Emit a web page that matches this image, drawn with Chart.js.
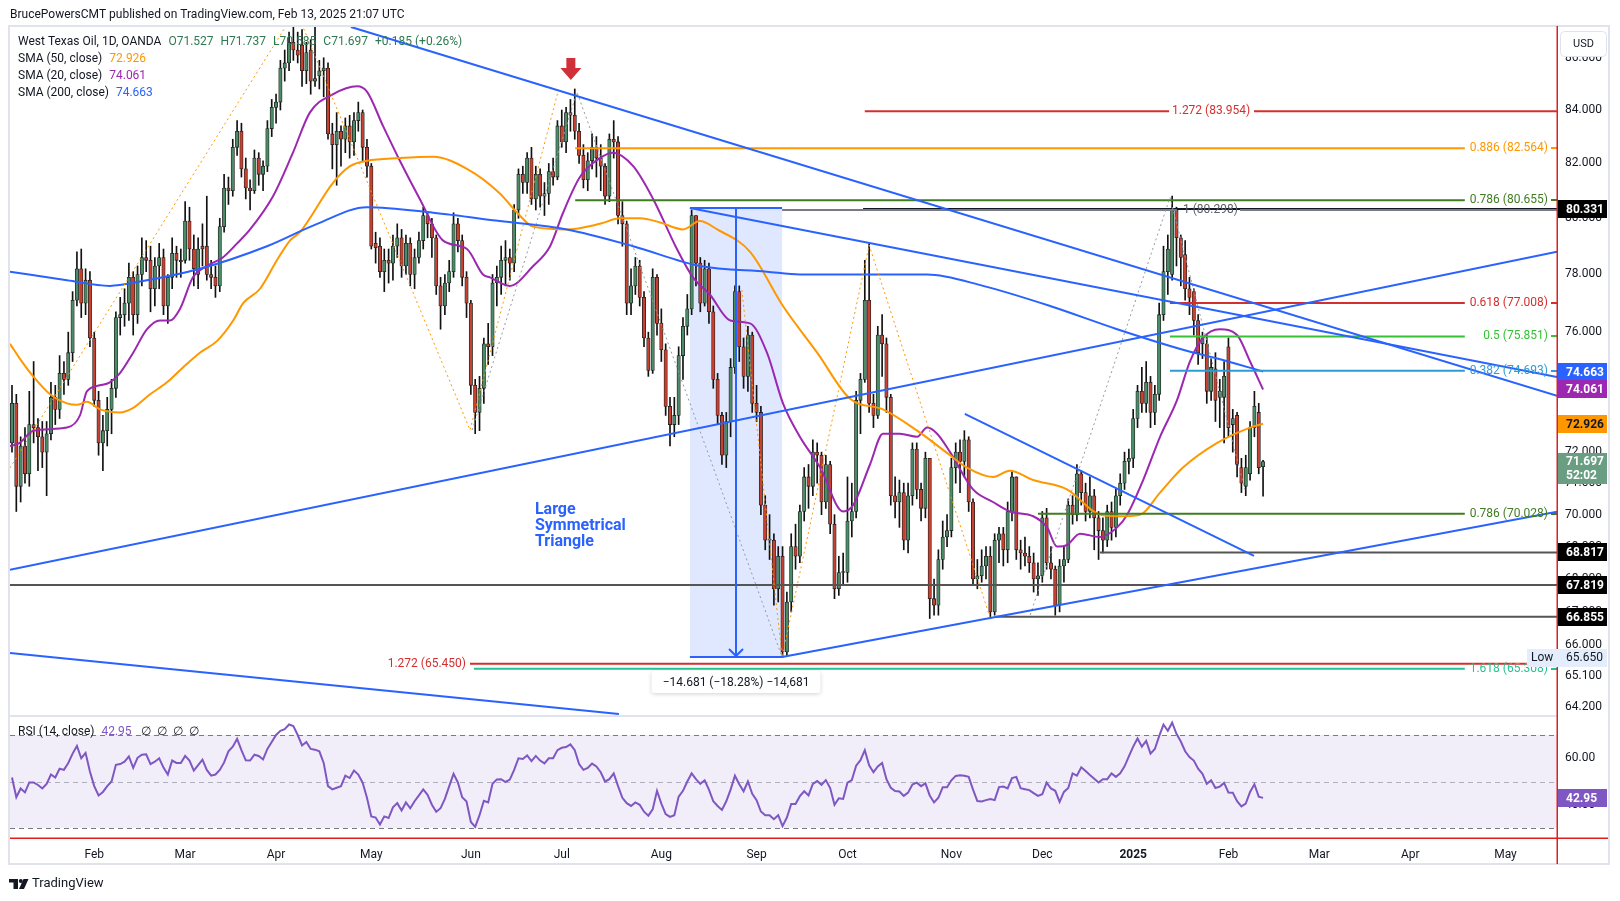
<!DOCTYPE html>
<html>
<head>
<meta charset="utf-8">
<title>West Texas Oil, 1D, OANDA</title>
<script src="https://cdn.jsdelivr.net/npm/chart.js@4.4.1/dist/chart.umd.min.js"></script>
<style>
  html, body { margin: 0; padding: 0; background: #ffffff; }
  #chart { display: block; }
</style>
</head>
<body>
<canvas id="chart" width="1620" height="901"></canvas>
<script>
// daily bars, index 0 = first visible bar (early Jan 2024)
const opens = [
  72.3,73.6,70.9,72.2,71.3,72.9,72.8,72.5,72.0,72.6,
  73.8,73.4,74.6,74.4,75.3,77.1,78.2,77.0,77.8,75.8,
  73.7,72.3,72.7,73.4,74.1,76.5,76.6,77.0,77.9,76.6,
  78.0,78.6,78.5,77.5,78.3,78.6,76.9,77.9,78.75,78.5,
  78.5,79.9,78.9,78.0,79.0,79.0,78.0,77.9,77.6,79.7,
  81.1,81.0,82.6,83.2,81.8,81.1,81.0,82.2,81.6,81.9,
  83.3,84.1,84.3,85.6,85.8,86.6,86.3,86.5,85.5,86.3,
  85.1,85.3,85.5,85.6,83.1,82.7,83.2,82.9,83.4,82.8,
  83.6,83.9,82.6,81.9,79.1,79.0,78.1,78.5,78.4,79.0,
  79.3,78.3,79.1,78.0,78.6,79.2,80.1,79.8,79.3,77.6,
  76.9,77.7,78.1,79.8,79.2,77.9,77.0,74.2,73.3,74.1,
  75.6,75.5,77.7,77.9,78.5,78.6,78.4,80.3,81.6,81.3,
  82.2,80.7,81.6,80.8,80.9,81.7,81.5,83.4,82.8,83.9,
  83.8,83.2,82.3,81.4,82.1,82.6,82.2,81.9,80.8,82.9,
  82.8,80.1,79.8,77.0,77.6,78.3,77.2,75.8,74.7,77.9,
  76.3,75.4,73.5,72.9,73.2,75.2,76.2,76.8,80.1,78.4,
  77.0,78.2,76.7,74.4,73.2,71.9,73.0,74.8,77.4,75.5,
  74.5,75.9,73.6,73.3,70.3,69.2,69.2,67.7,68.7,65.8,
  67.3,69.0,68.7,70.1,71.2,70.9,72.0,71.9,70.4,71.6,
  69.7,67.7,68.2,68.2,69.8,70.1,73.7,74.4,77.1,73.6,
  73.2,75.9,75.6,73.8,70.6,70.4,70.7,69.2,70.6,72.1,
  70.8,70.2,71.8,67.4,67.2,68.6,69.3,69.5,71.5,72.0,
  71.7,72.4,70.4,68.0,68.1,68.4,68.7,67.0,69.2,69.4,
  68.9,70.1,71.2,68.9,68.8,68.7,68.5,68.0,68.1,69.9,
  68.5,68.3,67.2,68.4,68.6,70.3,70.0,71.3,70.7,70.1,
  70.6,69.9,69.5,69.2,70.1,69.6,70.6,71.0,71.7,71.8,
  73.1,74.0,73.6,74.3,73.3,73.9,76.6,78.1,78.0,80.3,
  79.3,78.7,77.5,77.4,76.4,75.6,75.6,74.0,74.75,73.8,
  73.8,75.5,72.9,73.2,71.5,70.9,71.3,72.8,73.3,71.527
];
const highs = [
  74.2,73.9,72.5,72.8,74.0,75.0,73.1,73.0,73.0,74.3,
  74.2,75.2,75.0,76.0,77.4,78.8,78.9,78.2,78.1,76.0,
  74.0,73.2,73.8,74.4,76.7,77.2,77.5,78.4,78.1,78.3,
  79.3,79.2,79.0,78.6,79.1,78.9,78.0,79.3,79.0,78.9,
  80.6,80.4,79.4,79.3,79.8,80.8,78.5,78.3,80.0,81.6,
  81.5,82.9,83.6,83.5,82.2,81.4,82.5,82.4,82.1,83.6,
  84.4,84.6,85.9,86.3,87.0,87.4,87.0,87.1,86.6,86.7,
  87.6,85.9,86.0,85.8,83.5,83.9,83.4,83.7,83.8,83.9,
  84.3,84.0,82.9,82.0,79.5,79.3,78.9,78.9,79.4,79.8,
  79.6,79.4,79.3,78.9,79.5,80.4,80.2,80.0,79.4,77.9,
  78.0,78.5,80.2,80.0,79.4,78.1,77.1,74.4,74.5,75.8,
  76.3,78.0,78.3,79.0,79.2,78.9,80.5,81.8,81.9,82.4,
  82.6,81.9,81.8,81.3,82.0,82.2,83.6,84.0,84.1,84.4,
  84.8,83.5,82.7,82.4,83.1,83.0,82.7,82.0,83.1,83.6,
  83.0,80.6,79.9,78.2,78.6,78.5,77.4,76.0,78.2,78.0,
  76.8,75.6,73.8,73.8,75.5,76.5,77.3,80.3,80.1,78.6,
  78.5,78.4,76.9,74.6,73.3,73.3,75.1,77.6,77.6,75.8,
  76.2,76.0,74.2,73.5,70.6,70.0,69.4,69.0,69.0,67.6,
  69.4,69.7,70.3,71.5,71.6,72.4,72.3,72.0,71.9,71.7,
  70.0,68.7,68.8,71.2,71.0,74.0,74.6,78.5,79.1,73.9,
  76.2,76.6,75.8,73.9,71.2,71.1,71.0,71.0,72.3,72.3,
  71.0,72.0,71.8,68.0,68.9,69.8,70.0,71.8,72.3,72.4,
  72.7,72.5,70.5,68.6,68.9,69.0,69.0,69.4,69.6,69.6,
  70.4,71.4,71.2,69.2,69.3,69.0,68.8,68.5,70.1,70.2,
  69.0,68.4,68.6,69.0,70.5,70.6,71.6,71.4,71.0,71.2,
  70.8,70.1,69.9,70.3,70.4,70.8,71.3,72.0,72.1,73.4,
  74.2,74.8,75.0,74.5,74.2,77.0,79.0,79.4,80.8,80.4,
  79.4,79.2,77.9,77.5,76.6,76.0,75.9,75.1,75.3,74.4,
  75.0,75.8,73.4,73.3,71.8,71.9,73.0,74.0,73.6,71.737
];
const lows = [
  72.0,70.1,70.4,71.0,70.9,72.3,71.4,71.5,70.6,72.4,
  72.9,73.1,73.9,74.2,75.0,76.9,76.5,76.6,75.5,73.5,
  71.9,71.4,72.2,72.6,73.8,75.9,76.2,76.4,75.9,76.3,
  77.6,78.1,76.7,76.9,77.5,76.6,76.3,77.5,77.9,77.9,
  78.4,78.5,77.6,77.5,78.3,77.8,77.5,77.2,77.4,79.5,
  80.5,80.8,82.3,81.5,80.7,80.3,80.9,81.2,81.0,81.7,
  83.0,83.5,84.0,85.1,85.5,85.9,85.8,84.9,85.0,84.6,
  84.9,84.8,84.5,82.9,81.8,81.2,81.9,82.4,82.2,82.3,
  83.2,82.1,81.5,78.9,78.4,77.9,77.4,77.7,77.8,78.6,
  77.9,78.0,77.6,77.5,78.4,78.9,79.3,78.6,77.3,76.1,
  76.6,77.4,77.9,78.8,77.6,76.5,73.9,72.6,72.7,73.6,
  74.9,75.2,76.9,77.3,77.6,77.8,78.1,80.0,80.9,80.9,
  80.5,80.3,80.4,80.1,80.5,81.2,81.4,82.6,82.4,83.2,
  82.9,82.0,81.1,81.0,81.8,81.5,81.0,80.5,80.6,82.2,
  79.8,79.0,76.6,76.6,77.3,76.9,75.5,74.5,74.6,75.9,
  75.0,73.2,72.2,72.5,72.9,74.4,75.9,76.6,77.6,76.7,
  76.9,76.3,74.1,72.9,71.6,71.5,72.5,74.6,75.0,74.1,
  74.0,73.3,73.0,70.0,68.9,68.6,67.2,67.3,65.65,65.7,
  67.0,68.3,68.5,69.8,70.2,70.6,71.0,70.0,70.2,69.4,
  67.4,67.5,67.8,67.9,69.3,69.9,72.6,74.3,73.3,72.8,
  73.1,74.5,73.3,70.3,69.9,69.6,68.9,68.8,70.3,70.5,
  69.8,69.9,66.8,66.9,66.9,68.3,69.0,69.3,71.0,70.7,
  71.2,70.1,67.8,67.7,67.9,68.0,66.8,66.9,68.5,68.4,
  68.5,69.8,68.6,68.3,68.4,68.2,67.6,67.5,67.9,68.3,
  68.0,66.9,67.0,67.9,68.5,69.7,69.8,70.3,69.8,69.9,
  68.9,68.6,68.8,69.0,69.2,69.3,70.3,70.8,71.3,71.5,
  72.8,73.3,73.3,72.8,72.9,73.7,76.4,77.3,77.8,78.3,
  77.6,77.1,76.6,75.9,74.9,75.1,73.6,73.7,73.0,72.8,
  72.3,72.5,72.0,71.2,70.7,70.6,71.1,72.5,71.3,70.585
];
const closes = [
  73.6,70.9,72.2,71.3,72.9,72.8,72.5,72.0,72.6,73.8,
  73.4,74.6,74.4,75.3,77.1,78.2,77.0,77.8,75.8,73.7,
  72.3,72.7,73.4,74.1,76.5,76.6,77.0,77.9,76.6,78.0,
  78.6,78.5,77.5,78.3,78.6,76.9,77.9,78.75,78.5,78.45,
  79.9,78.9,78.2,78.9,78.9,78.0,77.9,77.6,79.7,81.1,
  81.0,82.6,83.2,81.8,81.1,81.0,82.2,81.6,81.9,83.3,
  84.1,84.3,85.6,85.8,86.6,86.3,86.1,85.5,86.2,85.1,
  85.2,85.5,85.6,83.1,82.7,83.2,82.9,83.4,82.8,83.6,
  83.9,82.6,81.9,79.0,78.95,78.1,78.5,78.4,79.0,79.3,
  78.3,79.1,78.0,78.6,79.2,80.1,79.8,79.3,77.6,76.9,
  77.7,78.1,79.8,79.2,77.9,77.0,74.2,73.3,74.1,75.6,
  75.5,77.7,77.9,78.5,78.6,78.4,80.3,81.6,81.3,82.2,
  80.7,81.6,80.8,80.9,81.7,81.5,83.4,82.8,83.9,83.8,
  83.2,82.3,81.4,82.1,82.6,82.2,81.9,80.8,82.9,82.8,
  80.1,79.8,77.0,77.6,78.3,77.2,75.8,74.7,77.9,76.3,
  75.4,73.5,72.9,73.2,75.2,76.2,76.8,80.1,78.4,77.0,
  78.2,76.7,74.4,73.2,71.9,73.0,74.8,77.4,75.5,74.5,
  75.9,73.6,73.3,70.3,69.2,69.2,67.7,68.7,65.8,67.3,
  69.0,68.7,70.1,71.2,70.9,72.0,71.9,70.4,71.6,69.7,
  67.7,68.2,68.2,69.8,70.1,73.7,74.4,77.1,73.6,73.2,
  75.9,75.6,73.8,70.6,70.4,70.7,69.2,70.6,72.1,70.8,
  70.2,71.8,67.4,67.2,68.6,69.3,69.5,71.5,72.0,71.7,
  72.4,70.4,68.0,68.1,68.4,68.7,67.0,69.2,69.4,68.9,
  70.1,71.2,68.9,68.8,68.7,68.5,68.0,68.1,69.9,68.5,
  68.3,67.2,68.4,68.6,70.3,70.0,71.3,70.7,70.1,70.6,
  69.9,69.5,69.2,70.1,69.6,70.6,71.0,71.7,71.8,73.1,
  74.0,73.6,74.3,73.3,73.9,76.6,78.1,78.9,80.3,79.3,
  78.6,77.5,77.2,76.4,75.3,75.8,74.0,74.8,73.7,74.0,
  74.5,72.8,73.1,71.6,71.0,71.5,72.8,73.5,71.5,71.697
];
const rsi = [
  51.7,43.2,47,45.3,49.6,49.6,48.5,47,49,53,
  51.7,55.5,55,58,62,65.3,60,62.3,54.3,48,
  44,45.5,48,50,57.2,57.5,58.5,60.8,55.9,60.2,
  61.5,61.7,57.5,58.5,60,56,53,59,58,58,
  61,59,54.7,57,59.4,55,52.5,53,55,58.2,
  63,65,68.3,63.5,59.1,59,61.5,61,59.5,64,
  67,70,71.8,72.5,74.5,73.8,70,65.5,67,64,
  63.7,63,58,48,46.6,47.3,48,52.5,51.5,54.7,
  53,49.5,43,35,34.5,31.5,35,34.3,38.9,40.7,
  37.5,41,38.5,41.5,44,46.6,44.3,40,37,38.5,
  42.5,48,53.3,49.6,43.2,41.4,32.6,30.5,35.5,41.7,
  41,49,50.9,51,49.8,50.8,55,60,59.7,61.2,
  58.8,61,59,57.8,60,60,63.5,64.5,64.8,66,
  63.5,57.5,55,55.8,57.7,56.5,54,50,51,53.5,
  48,43,40.7,39.5,41,40,37,35.3,38,46,
  40.5,36,34.8,35.5,43.5,46,50,53.5,51,49,
  50.5,46.5,41.5,39.5,37.8,41.5,46.5,52.5,48.8,45.8,
  50,44.7,42,37.1,35.5,35.5,33.8,35.5,30.8,34.5,
  40.3,40.3,43.7,45.8,44,49,50.2,48.6,50.6,47.2,
  40,42.8,42.5,49.5,50.6,56.8,59.2,63.5,57,54,
  56.5,58,51,47.3,45.9,45.7,43.8,45.2,48.7,49.5,
  48,49.2,44,41,43,47.5,47.5,50.5,52.4,52.7,
  52.5,52,46.5,41.6,41.4,42,42.5,42,47.6,47.8,
  47,51.5,52,47.1,46.7,46.3,45,43.8,44.5,49.5,
  47,46,41.2,45.5,47.2,53.5,52.5,56.1,54.5,52.8,
  51.2,49.6,51,51,53.5,52,53.5,56.5,60.8,65,
  68.5,65,67.5,62,64,69.5,74.5,71.8,75.3,70.5,
  67.2,63,60.5,59,55.5,53.3,49,50.5,47.2,47.8,
  49.4,45.3,45.2,41.5,39.3,40.5,45.5,48.8,43.5,42.95
];

// moving averages, read as [bar index, value]
const sma20 = [[-0.46,72.2],[1.8,72.3],[4.9,72.7],[12.7,72.8],[15.7,73.2],[17.3,74.0],[20.3,74.2],[22.6,74.3],[24.9,74.6],[28.0,75.3],[31.2,76.1],[34.2,76.4],[36.5,76.4],[38.8,76.8],[41.8,77.9],[45.0,78.3],[48.7,78.6],[52.0,79.1],[55.0,79.6],[60.3,80.8],[64.9,82.4],[68.8,83.9],[74.2,84.6],[79.7,84.9],[82.0,84.7],[85.7,83.4],[89.6,82.1],[94.2,80.7],[99.6,79.2],[105.1,78.9],[108.8,78.0],[110.4,77.9],[115.0,77.6],[120.4,78.3],[124.3,79.0],[127.3,80.2],[131.2,81.5],[135.8,82.2],[138.8,82.4],[143.5,81.9],[148.1,80.7],[153.6,78.9],[157.3,77.9],[161.2,77.3],[165.9,76.4],[170.5,76.3],[174.4,75.3],[178.1,73.6],[182.0,72.5],[186.7,71.5],[192.0,70.1],[194.3,70.3],[198.2,71.6],[201.2,72.6],[205.1,72.6],[209.1,72.5],[211.4,72.8],[213.7,72.6],[216.7,72.0],[222.0,70.8],[226.6,70.4],[230.5,70.1],[235.9,69.95],[239.1,69.6],[241.4,69.0],[243.7,69.05],[246.7,69.4],[251.3,69.3],[255.3,69.6],[257.6,70.0],[261.3,71.1],[265.2,72.5],[269.1,73.7],[272.1,75.0],[275.1,75.8],[279.0,76.1],[283.0,75.9],[286.0,75.0],[289.0,74.061]];
const sma50 = [[-0.46,75.6],[1.8,75.1],[4.9,74.5],[8.8,73.9],[12.7,73.6],[15.0,73.55],[17.3,73.65],[20.3,73.4],[24.9,73.3],[28.0,73.45],[31.9,73.9],[35.8,74.3],[39.5,74.8],[43.4,75.3],[47.4,75.7],[51.1,76.4],[53.4,77.0],[57.3,77.5],[61.2,78.5],[64.2,79.2],[66.5,79.5],[74.2,81.3],[78.1,81.9],[82.0,82.1],[89.6,82.2],[97.3,82.25],[105.1,81.8],[112.7,80.9],[116.7,80.2],[120.4,79.7],[128.2,79.6],[135.8,79.8],[140.4,80.0],[145.1,80.0],[149.7,79.85],[155.0,79.6],[158.9,79.9],[162.9,79.6],[170.5,78.8],[178.1,76.9],[186.0,75.3],[193.6,73.75],[201.2,73.4],[209.1,72.7],[216.7,71.9],[220.6,71.5],[226.6,71.2],[230.5,71.4],[235.9,71.1],[243.7,70.8],[251.3,70.0],[255.3,69.95],[260.6,70.0],[265.2,70.7],[270.5,71.5],[278.4,72.3],[286.0,72.8],[289.0,72.926]];
const sma200 = [[-0.46,78.1],[12.7,77.8],[22.6,77.6],[29.6,77.75],[43.4,78.2],[58.9,79.0],[70.5,79.8],[82.0,80.4],[97.3,80.2],[112.7,79.9],[128.2,79.6],[143.5,79.0],[158.9,78.3],[174.4,78.1],[182.0,78.0],[197.5,78.0],[211.4,78.0],[224.3,77.6],[239.8,76.9],[255.3,76.1],[270.5,75.4],[278.4,75.1],[289.0,74.663]];

const monthTicks = [19, 40, 61, 83, 106, 127, 150, 172, 193, 217, 238, 259, 281, 302, 323, 345];
const monthLabels = ['Feb','Mar','Apr','May','Jun','Jul','Aug','Sep','Oct','Nov','Dec','2025','Feb','Mar','Apr','May'];
const priceTicks = [64.2, 65.1, 66, 67, 68, 69, 70, 71, 72, 74, 76, 78, 80, 82, 84, 86];

// drawings, as [bar index, price, bar index, price]
const trendLines = [
  [78.3, 87.20, 356.9, 73.85],
  [156.6, 80.37, 356.9, 74.48],
  [-0.46, 68.28, 356.9, 78.80],
  [177.9, 65.65, 356.9, 70.09],
  [220.1, 73.25, 286.9, 68.71],
  [-0.46, 65.77, 140.2, 63.99]
];
const zigOrangeA = [[-0.46,71.49],[65.6,87.87],[105.8,72.72],[126.1,84.68]];
const zigOrangeB = [[168.6,77.46],[177.9,65.65],[198.0,79.04],[225.9,66.85]];
const zigGrayA = [[106.3,72.72],[130.5,84.68],[177.9,65.65]];
const zigGrayB = [[235.2,66.91],[267.5,80.75],[284.8,70.79]];

const fibRatios = ['1.272','0.886','0.786','1','0.618','0.5','0.382','0.786','1.272','1.618'];
const fibPrices = [83.954, 82.564, 80.655, 80.298, 77.008, 75.851, 74.693, 70.028, 65.450, 65.308];
const fibStarts = [197.0, 130.1, 130.1, 177.9, 267.5, 267.5, 267.5, 237.0, 105.8, 106.7];
const levelPrices = [80.331, 68.817, 67.819, 66.855];
const levelStarts = [196.6, 251.3, -0.46, 227.3];

const measureBars = [156.6, 177.9];
const measurePrices = [80.37, 65.65];
const measureText = '\u221214.681 (\u221218.28%) \u221214,681';

// ---- styling ----
const FONT = 'Roboto, "Noto Sans", sans-serif';
Chart.defaults.font.family = FONT;
const GREEN = '#4a8c66', RED = '#c8402f';
const fibColors = ['#d32f2f','#ff9800','#3f7d20','#787b86','#d32f2f','#36c136','#2d9bd6','#3f7d20','#d32f2f','#26c290'];
const fibModes = ['center','right','right','left','right','right','right','right','before','right'];
const xMin = -0.46, xMax = 356.9;
const labelEnd = 335.6;

const pts = arr => arr.map(p => ({x: p[0], y: p[1]}));
function lineSet(data, color, width, dash, order, extra) {
  return Object.assign({
    type: 'line', data, borderColor: color, borderWidth: width, borderDash: dash || [],
    pointRadius: 0, pointHoverRadius: 0, fill: false, tension: 0, order, yAxisID: 'y', spanGaps: false
  }, extra || {});
}

const bars = closes.map((c, i) => i);
const datasets = [];
trendLines.forEach(t => datasets.push(lineSet([{x:t[0],y:t[1]},{x:t[2],y:t[3]}], '#2962ff', 2, null, 1)));
datasets.push(lineSet(pts(zigOrangeA), '#ff9800', 1, [2, 3], 2));
datasets.push(lineSet(pts(zigOrangeB), '#ff9800', 1, [2, 3], 2));
datasets.push(lineSet(pts(zigGrayA), '#9598a1', 1, [2, 3], 2));
datasets.push(lineSet(pts(zigGrayB), '#9598a1', 1, [2, 3], 2));
fibPrices.forEach((p, i) => {
  let d;
  if (fibModes[i] === 'right') d = [{x: fibStarts[i], y: p}, {x: labelEnd, y: p}];
  else if (fibModes[i] === 'center') d = [{x: fibStarts[i], y: p}, {x: 267.3, y: p}, {x: 277, y: null}, {x: 286.9, y: p}, {x: xMax, y: p}];
  else if (fibModes[i] === 'left') d = [{x: fibStarts[i], y: p}, {x: 269.1, y: p}, {x: 276, y: null}, {x: 283.7, y: p}, {x: xMax, y: p}];
  else d = [{x: fibStarts[i], y: p}, {x: xMax, y: p}];
  datasets.push(lineSet(d, fibColors[i], 2, null, 3));
});
levelPrices.forEach((p, i) => datasets.push(lineSet([{x: levelStarts[i], y: p}, {x: xMax, y: p}], i === 0 ? '#131722' : '#555555', 2, null, 3)));
datasets.push(lineSet(pts(sma200), '#2962ff', 2, null, 4, {cubicInterpolationMode: 'monotone'}));
datasets.push(lineSet(pts(sma50), '#ff9800', 2, null, 4, {cubicInterpolationMode: 'monotone'}));
datasets.push(lineSet(pts(sma20), '#9c27b0', 2, null, 4, {cubicInterpolationMode: 'monotone'}));
datasets.push({
  type: 'bar', data: bars.map(i => ({x: i, y: [opens[i], closes[i]]})), yAxisID: 'y',
  backgroundColor: bars.map(i => closes[i] >= opens[i] ? GREEN : RED),
  borderColor: '#222222', borderWidth: 0.8, borderSkipped: false,
  barThickness: 3.4, minBarLength: 1, grouped: false, order: 5
});
datasets.push({
  type: 'bar', data: bars.map(i => ({x: i, y: [lows[i], highs[i]]})), yAxisID: 'y',
  backgroundColor: '#111111', barThickness: 1, grouped: false, order: 6
});
datasets.push(lineSet(rsi.map((v, i) => ({x: i, y: v})), '#7e57c2', 2, null, 1, {yAxisID: 'yRsi'}));

function txt(ctx, s, x, y, color, size, align, weight) {
  ctx.font = (weight || 'normal') + ' ' + size + 'px ' + FONT;
  ctx.fillStyle = color;
  ctx.textAlign = align || 'left';
  ctx.textBaseline = 'middle';
  ctx.fillText(s, x, y);
  return ctx.measureText(s).width;
}
function tag(ctx, left, y, s, bg, fg) {
  ctx.fillStyle = bg;
  ctx.fillRect(left, Math.round(y) - 9, 49, 18);
  txt(ctx, s, left + 8, Math.round(y) + 0.5, fg, 12, 'left', 'bold');
}

const tvPlugin = {
  id: 'tv',
  beforeDatasetsDraw(chart) {
    const {ctx, chartArea: a, scales: {x, y, yRsi: r}} = chart;
    ctx.save();
    const r70 = r.getPixelForValue(70), r50 = r.getPixelForValue(50), r30 = r.getPixelForValue(30);
    ctx.fillStyle = 'rgba(126,87,194,0.1)';
    ctx.fillRect(a.left, r70, a.right - a.left, r30 - r70);
    ctx.lineWidth = 1;
    ctx.setLineDash([5, 4]);
    ctx.strokeStyle = '#787b86';
    [r70, r30].forEach(v => { ctx.beginPath(); ctx.moveTo(a.left, Math.round(v) + 0.5); ctx.lineTo(a.right, Math.round(v) + 0.5); ctx.stroke(); });
    ctx.strokeStyle = 'rgba(120,123,134,0.55)';
    ctx.beginPath(); ctx.moveTo(a.left, Math.round(r50) + 0.5); ctx.lineTo(a.right, Math.round(r50) + 0.5); ctx.stroke();
    ctx.setLineDash([]);
    // pane separator
    const sep = Math.round(y.getPixelForValue(63.96));
    ctx.fillStyle = '#e0e3eb';
    ctx.fillRect(a.left, sep, a.right - a.left, 2);
    // measure box
    const mx1 = x.getPixelForValue(measureBars[0]), mx2 = x.getPixelForValue(measureBars[1]);
    const my1 = y.getPixelForValue(measurePrices[0]), my2 = y.getPixelForValue(measurePrices[1]);
    ctx.fillStyle = 'rgba(41,98,255,0.15)';
    ctx.fillRect(mx1, my1, mx2 - mx1, my2 - my1);
    ctx.restore();
  },
  afterDatasetsDraw(chart) {
    const {ctx, chartArea: a, scales: {x, y}} = chart;
    ctx.save();
    // measure tool lines
    const mx1 = x.getPixelForValue(measureBars[0]), mx2 = x.getPixelForValue(measureBars[1]);
    const my1 = y.getPixelForValue(measurePrices[0]), my2 = y.getPixelForValue(measurePrices[1]);
    const mc = (mx1 + mx2) / 2;
    ctx.strokeStyle = '#2962ff'; ctx.lineWidth = 2;
    ctx.beginPath();
    ctx.moveTo(mx1, my1); ctx.lineTo(mx2, my1);
    ctx.moveTo(mx1, my2); ctx.lineTo(mx2, my2);
    ctx.moveTo(mc, my1); ctx.lineTo(mc, my2 - 1);
    ctx.moveTo(mc - 7, my2 - 8); ctx.lineTo(mc, my2 - 1); ctx.lineTo(mc + 7, my2 - 8);
    ctx.stroke();
    ctx.font = '12px ' + FONT;
    const mw = ctx.measureText(measureText).width + 22;
    const by = my2 + 14;
    ctx.shadowColor = 'rgba(0,0,0,0.18)'; ctx.shadowBlur = 4; ctx.shadowOffsetY = 1;
    ctx.fillStyle = '#ffffff';
    ctx.beginPath(); ctx.roundRect(mc - mw / 2, by, mw, 22, 3); ctx.fill();
    ctx.shadowColor = 'transparent';
    txt(ctx, measureText, mc, by + 11.5, '#131722', 12, 'center');
    // fib labels
    fibPrices.forEach((p, i) => {
      const py = y.getPixelForValue(p);
      const s = fibRatios[i] + ' (' + p.toFixed(3) + ')';
      const c = fibColors[i];
      if (fibModes[i] === 'right') {
        txt(ctx, s, a.right - 9, py, c, 12, 'right');
        ctx.fillStyle = c; ctx.fillRect(a.right - 6, Math.round(py) - 1, 6, 2);
      } else if (fibModes[i] === 'center') {
        txt(ctx, s, x.getPixelForValue(277), py, c, 12, 'center');
      } else if (fibModes[i] === 'left') {
        txt(ctx, s, x.getPixelForValue(270.5), py, '#5d606b', 12, 'left');
      } else {
        txt(ctx, s, x.getPixelForValue(fibStarts[i]) - 4, py, c, 12, 'right');
      }
    });
    // red arrow above the July high
    const ax = x.getPixelForValue(129.1), ay = y.getPixelForValue(85.57);
    ctx.fillStyle = '#d0303a';
    ctx.beginPath();
    ctx.moveTo(ax - 4.5, ay - 11); ctx.lineTo(ax + 4.5, ay - 11); ctx.lineTo(ax + 4.5, ay - 1);
    ctx.lineTo(ax + 10.5, ay - 1); ctx.lineTo(ax, ay + 11); ctx.lineTo(ax - 10.5, ay - 1);
    ctx.lineTo(ax - 4.5, ay - 1); ctx.closePath(); ctx.fill();
    // triangle note
    const tx = x.getPixelForValue(120.8), ty = y.getPixelForValue(70.15);
    ['Large', 'Symmetrical', 'Triangle'].forEach((s, k) => txt(ctx, s, tx, ty + k * 16, '#2962ff', 16, 'left', 'bold'));
    ctx.restore();
  },
  afterDraw(chart) {
    const {ctx, chartArea: a, scales: {y, yRsi: r}} = chart;
    ctx.save();
    txt(ctx, 'BrucePowersCMT published on TradingView.com, Feb 13, 2025 21:07 UTC', 10, 15, '#131722', 12);
    ctx.strokeStyle = '#e0e3eb'; ctx.lineWidth = 2;
    ctx.strokeRect(9, 26, 1600, 838);
    // legends
    let cx = 18;
    cx += txt(ctx, 'West Texas Oil, 1D, OANDA', cx, 42, '#131722', 12) + 7;
    ['O71.527', 'H71.737', 'L70.585', 'C71.697', '+0.185 (+0.26%)'].forEach(s => {
      cx += txt(ctx, s, cx, 42, '#2f7a52', 12) + 7;
    });
    const smaLegend = [['SMA (50, close)', sma50, '#ff9800'], ['SMA (20, close)', sma20, '#9c27b0'], ['SMA (200, close)', sma200, '#2962ff']];
    smaLegend.forEach((l, k) => {
      const w = txt(ctx, l[0], 18, 59 + k * 17, '#131722', 12);
      txt(ctx, l[1][l[1].length - 1][1].toFixed(3), 18 + w + 7, 59 + k * 17, l[2], 12);
    });
    const rl = r.getPixelForValue(70) - 3;
    let rx = 18 + txt(ctx, 'RSI (14, close)', 18, rl, '#131722', 12) + 7;
    rx += txt(ctx, rsi[rsi.length - 1].toFixed(2), rx, rl, '#7e57c2', 12) + 9;
    for (let k = 0; k < 4; k++) rx += txt(ctx, '\u2205', rx, rl, '#131722', 12) + 6;
    // red border lines
    ctx.fillStyle = '#e01e1e';
    ctx.fillRect(a.right - 0.5, 26, 1.5, 838);
    ctx.fillRect(10, a.bottom - 0.5, 1598, 1.5);
    // rsi axis labels
    txt(ctx, '60.00', a.right + 8, r.getPixelForValue(60), '#131722', 12);
    txt(ctx, '40.00', a.right + 8, r.getPixelForValue(40), '#131722', 12);
    // axis tags
    const L = a.right + 1;
    tag(ctx, L, y.getPixelForValue(levelPrices[0]), levelPrices[0].toFixed(3), '#000000', '#ffffff');
    tag(ctx, L, y.getPixelForValue(sma200[sma200.length - 1][1]), sma200[sma200.length - 1][1].toFixed(3), '#2962ff', '#ffffff');
    tag(ctx, L, y.getPixelForValue(sma20[sma20.length - 1][1]), sma20[sma20.length - 1][1].toFixed(3), '#9c27b0', '#ffffff');
    tag(ctx, L, y.getPixelForValue(sma50[sma50.length - 1][1]), sma50[sma50.length - 1][1].toFixed(3), '#ff9800', '#131722');
    for (let k = 1; k < levelPrices.length; k++) tag(ctx, L, y.getPixelForValue(levelPrices[k]), levelPrices[k].toFixed(3), '#000000', '#ffffff');
    const lastY = Math.round(y.getPixelForValue(closes[closes.length - 1]));
    ctx.fillStyle = '#6a9e82';
    ctx.fillRect(L, lastY - 8, 49, 31);
    txt(ctx, closes[closes.length - 1].toFixed(3), L + 8, lastY + 0.5, '#ffffff', 12, 'left', 'bold');
    txt(ctx, '52:02', L + 8, lastY + 14.5, '#ffffff', 12, 'left', 'bold');
    const lowY = Math.round(y.getPixelForValue(lows[178]));
    ctx.fillStyle = '#e3edfc';
    ctx.fillRect(L - 31, lowY - 8, 80, 18);
    txt(ctx, 'Low', L - 27, lowY + 1, '#131722', 12);
    txt(ctx, '65.650', L + 8, lowY + 1, '#131722', 12);
    tag(ctx, L, r.getPixelForValue(rsi[rsi.length - 1]), rsi[rsi.length - 1].toFixed(2), '#7e57c2', '#ffffff');
    // currency box
    ctx.fillStyle = '#ffffff'; ctx.strokeStyle = '#e0e3eb'; ctx.lineWidth = 1;
    ctx.beginPath(); ctx.roundRect(1560.5, 31.5, 46, 25, 4); ctx.fill(); ctx.stroke();
    txt(ctx, 'USD', 1583.5, 44.5, '#131722', 11, 'center');
    // footer logo
    ctx.fillStyle = '#131722';
    ctx.fillRect(9, 879, 9, 3.5); ctx.fillRect(13.5, 879, 4.5, 10);
    ctx.beginPath(); ctx.arc(20.8, 881, 2, 0, Math.PI * 2); ctx.fill();
    ctx.beginPath(); ctx.moveTo(23.5, 879); ctx.lineTo(28.5, 879); ctx.lineTo(24, 889); ctx.lineTo(19, 889); ctx.closePath(); ctx.fill();
    txt(ctx, 'TradingView', 32, 884, '#131722', 13);
    ctx.restore();
  }
};

new Chart(document.getElementById('chart').getContext('2d'), {
  data: { datasets },
  options: {
    responsive: false,
    animation: false,
    events: [],
    layout: { padding: { left: 10, top: 26, right: 0, bottom: 0 } },
    plugins: { legend: { display: false }, tooltip: { enabled: false } },
    scales: {
      x: {
        type: 'linear', min: xMin, max: xMax, offset: false, bounds: 'data',
        grid: { display: false, offset: false }, border: { display: false },
        afterBuildTicks: s => { s.ticks = monthTicks.map(v => ({value: v})); },
        afterFit: s => { s.height = 63; },
        ticks: {
          autoSkip: false, maxRotation: 0, padding: 2, color: '#131722',
          font: c => ({ family: FONT, size: 12, weight: (c.tick && c.tick.value === 259) ? 'bold' : 'normal' }),
          callback: v => monthLabels[monthTicks.indexOf(v)]
        }
      },
      y: {
        type: 'logarithmic', position: 'right', min: 60.51, max: 87.24, bounds: 'data',
        grid: { display: false, drawTicks: false }, border: { display: false },
        afterBuildTicks: s => { s.ticks = priceTicks.map(v => ({value: v})); },
        afterFit: s => { s.width = 63; },
        ticks: { autoSkip: false, padding: 8, color: '#131722', font: { family: FONT, size: 12 }, callback: v => Number(v).toFixed(3) }
      },
      yRsi: { type: 'linear', position: 'right', display: false, min: 25.7, max: 374.95, bounds: 'data' }
    }
  },
  plugins: [tvPlugin]
});
</script>
</body>
</html>
